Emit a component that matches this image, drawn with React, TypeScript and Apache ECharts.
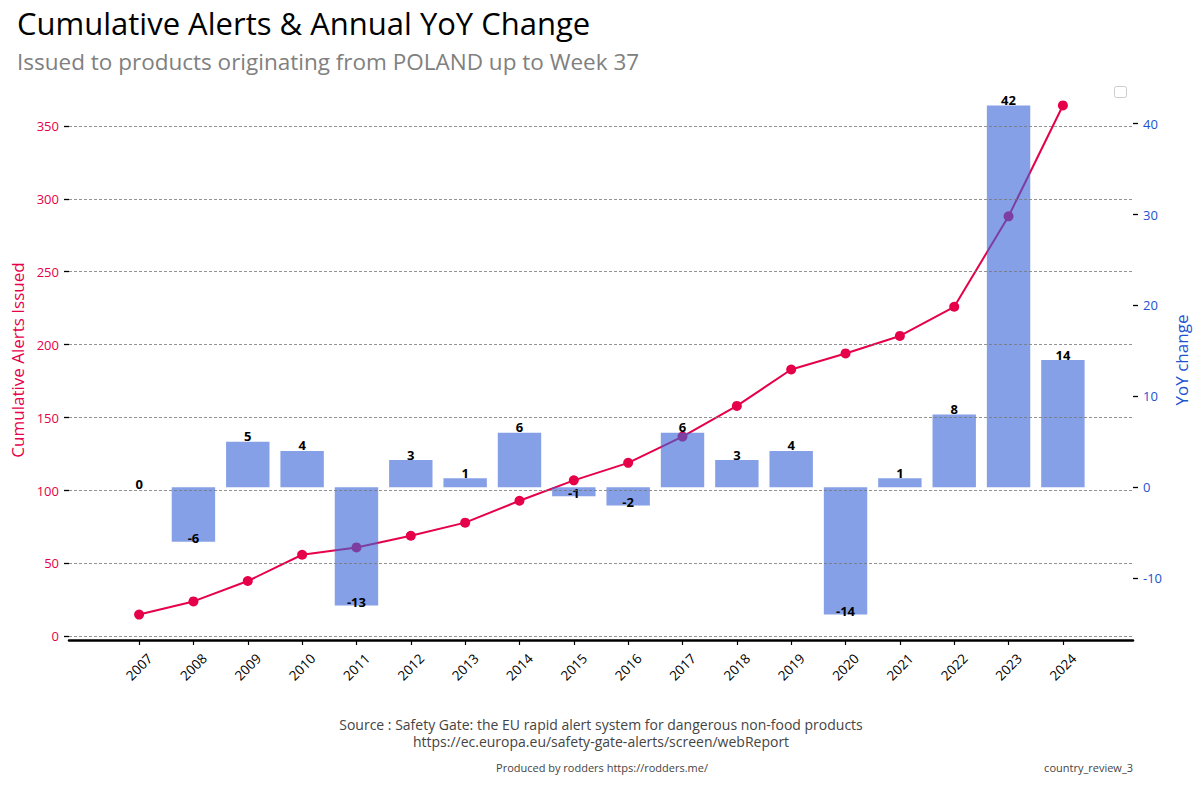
import React, { useEffect, useRef } from "react";
import * as echarts from "echarts";

const years = ["2007", "2008", "2009", "2010", "2011", "2012", "2013", "2014", "2015", "2016", "2017", "2018", "2019", "2020", "2021", "2022", "2023", "2024"];
const cumulativeAlerts = [15, 24, 38, 56, 61, 69, 78, 93, 107, 119, 137, 158, 183, 194, 206, 226, 288, 364];
const yoyChange = [0, -6, 5, 4, -13, 3, 1, 6, -1, -2, 6, 3, 4, -14, 1, 8, 42, 14];
const leftTicks = [0, 50, 100, 150, 200, 250, 300, 350];
const rightTicks = [-10, 0, 10, 20, 30, 40];
const yearIndex = years.map((_, i) => i);

const FONT = "'Open Sans', 'DejaVu Sans', sans-serif";
const CRIMSON = "#e6004a";
const BLUE = "#2152d0";
const BAR = "rgba(58,102,214,0.62)";

function labelFor(v: number) {
  if (v > 0) return { position: "top", distance: -1 };
  if (v < 0) return { position: "insideBottom", distance: -3 };
  return { position: "top", distance: -3.5 };
}

export default function App() {
  const ref = useRef<HTMLDivElement>(null);
  useEffect(() => {
    if (!ref.current) return;
    const chart = echarts.init(ref.current, null, { renderer: "svg" });
    chart.setOption({
      animation: false,
      backgroundColor: "#fff",
      textStyle: { fontFamily: FONT },
      grid: { left: 69, right: 67, top: 80, bottom: 160 },
      xAxis: {
        type: "value",
        min: -1.29,
        max: 18.29,
        axisLine: { show: true, onZero: false, lineStyle: { color: "#000", width: 2.5 } },
        splitLine: { show: false },
        axisTick: { show: true, customValues: yearIndex, length: 5, lineStyle: { color: "#000", width: 1.2 } },
        axisLabel: {
          customValues: yearIndex,
          formatter: (v: number) => years[Math.round(v)] ?? "",
          rotate: 45,
          align: "center",
          verticalAlign: "middle",
          margin: 27,
          color: "#000",
          fontSize: 13.5,
          fontFamily: FONT,
        },
      },
      yAxis: [
        {
          type: "value",
          position: "left",
          min: -2.45,
          max: 381.45,
          z: 3,
          axisLine: { show: false, onZero: false },
          axisTick: { show: true, customValues: leftTicks, length: 5, lineStyle: { color: "#000", width: 1.3 } },
          axisLabel: { customValues: leftTicks, color: CRIMSON, fontSize: 13, margin: 10, fontFamily: FONT },
          splitLine: { show: true, lineStyle: { color: "#777", type: [3, 2], width: 0.8 } },
          name: "Cumulative Alerts Issued",
          nameLocation: "middle",
          nameRotate: 90,
          nameGap: 40,
          nameTextStyle: { color: CRIMSON, fontSize: 17, fontFamily: FONT },
        },
        {
          type: "value",
          position: "right",
          min: -16.8,
          max: 44.8,
          axisLine: { show: false, onZero: false },
          axisTick: { show: true, customValues: rightTicks, length: 5, lineStyle: { color: "#000", width: 1.3 } },
          axisLabel: { customValues: rightTicks, color: BLUE, fontSize: 13, margin: 10, fontFamily: FONT },
          splitLine: { show: false },
          name: "YoY change",
          nameLocation: "middle",
          nameRotate: 90,
          nameGap: 34,
          nameTextStyle: { color: BLUE, fontSize: 17, fontFamily: FONT },
        },
      ],
      series: [
        {
          type: "line",
          xAxisIndex: 0,
          yAxisIndex: 0,
          z: 1,
          data: cumulativeAlerts.map((c, i) => [i, c]),
          symbol: "circle",
          symbolSize: 10,
          lineStyle: { color: CRIMSON, width: 2 },
          itemStyle: { color: CRIMSON },
        },
        {
          type: "bar",
          xAxisIndex: 0,
          yAxisIndex: 1,
          z: 2,
          barWidth: 43.4,
          itemStyle: { color: BAR },
          label: {
            show: true,
            color: "#000",
            fontWeight: "bold",
            fontSize: 13,
            fontFamily: FONT,
            formatter: (p: any) => String(yoyChange[p.dataIndex]),
          },
          data: yoyChange.map((v, i) => ({ value: [i, v], label: labelFor(v) })),
        },
      ],
      graphic: [
        {
          type: "text",
          x: 17,
          y: 23,
          style: { text: "Cumulative Alerts & Annual YoY Change", fontSize: 31, fontFamily: FONT, fill: "#000", align: "left", verticalAlign: "middle" },
        },
        {
          type: "text",
          x: 17,
          y: 61,
          style: { text: "Issued to products originating from POLAND up to Week 37", fontSize: 22.5, fontFamily: FONT, fill: "#808080", align: "left", verticalAlign: "middle" },
        },
        {
          type: "rect",
          shape: { x: 1114.5, y: 86.5, width: 12, height: 11, r: 2 },
          style: { fill: "#fff", stroke: "#ccc", lineWidth: 1 },
        },
        {
          type: "text",
          x: 601,
          y: 724,
          style: { text: "Source : Safety Gate: the EU rapid alert system for dangerous non-food products", fontSize: 14, fontFamily: FONT, fill: "#444", align: "center", verticalAlign: "middle" },
        },
        {
          type: "text",
          x: 601,
          y: 741,
          style: { text: "https://ec.europa.eu/safety-gate-alerts/screen/webReport", fontSize: 14, fontFamily: FONT, fill: "#444", align: "center", verticalAlign: "middle" },
        },
        {
          type: "text",
          x: 602,
          y: 767,
          style: { text: "Produced by rodders https://rodders.me/", fontSize: 11, fontFamily: FONT, fill: "#444", align: "center", verticalAlign: "middle" },
        },
        {
          type: "text",
          x: 1133,
          y: 767,
          style: { text: "country_review_3", fontSize: 11, fontFamily: FONT, fill: "#444", align: "right", verticalAlign: "middle" },
        },
      ],
    });
    return () => chart.dispose();
  }, []);
  return <div ref={ref} style={{ position: "absolute", left: 0, top: 0, width: 1200, height: 800 }} />;
}
